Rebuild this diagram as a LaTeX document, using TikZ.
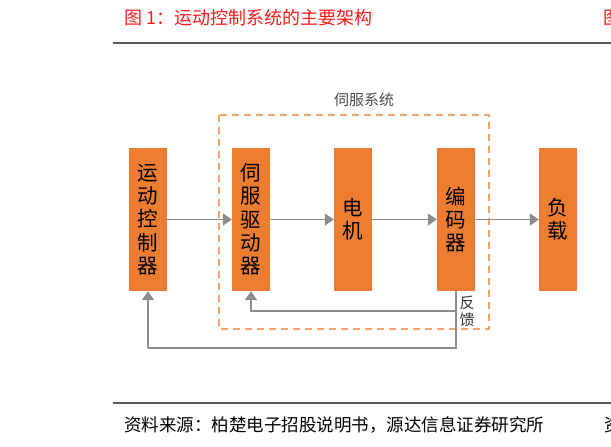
\documentclass[tikz,border=0pt]{standalone}
\usepackage{fontspec}
\usetikzlibrary{arrows.meta}
\newfontfamily\cjk{Noto Sans CJK SC}
\definecolor{boxOrange}{HTML}{ED7D31}
\definecolor{dashOrange}{HTML}{F4A46A}
\definecolor{arrowGray}{HTML}{8C8C8C}
\definecolor{ruleGray}{HTML}{5A5A5A}
\definecolor{titleRed}{HTML}{FF1A1A}

\begin{document}
\begin{tikzpicture}[x = 1pt, y = -1pt, font=\cjk]
	\tikzstyle{boxStyle} = [rectangle, fill = boxOrange, minimum width = 38pt, minimum height = 143pt, inner sep = 0pt, text width = 22pt, align = center, font = \cjk\fontsize{20.5}{23.3}\selectfont]
	\tikzstyle{arrowStyle} = [draw = arrowGray, line width = 1.8pt, -{Triangle[length = 9pt, width = 12pt]}]
	\tikzstyle{lineStyle} = [draw = arrowGray, line width = 1.8pt]
	\tikzstyle{servoStyle} = [draw = dashOrange, line width = 1.8pt, dash pattern = on 7pt off 5pt]
	\tikzstyle{ruleStyle} = [draw = ruleGray, line width = 1.2pt]
	\useasboundingbox (0,0) rectangle (611,447);
	\node[anchor = west, text = titleRed, font = \cjk\fontsize{18}{20}\selectfont, inner sep = 0pt] (title) at (124,18) {图 1：运动控制系统的主要架构};
	\node[anchor = west, text = titleRed, font = \cjk\fontsize{18}{20}\selectfont, inner sep = 0pt] (titleNext) at (603,18) {图};
	\draw[ruleStyle] (113,43) -- (611,43);
	\draw[servoStyle] (219,115) rectangle (489,329);
	\node[text = black!70, font = \cjk\fontsize{15}{17}\selectfont, inner sep = 0pt] (servo) at (364,100) {伺服系统};
	\node[boxStyle] (ctrl) at (148,219.5) {运\\动\\控\\制\\器};
	\node[boxStyle] (drive) at (251,219.5) {伺\\服\\驱\\动\\器};
	\node[boxStyle] (motor) at (353,219.5) {电\\机};
	\node[boxStyle] (enc) at (456,219.5) {编\\码\\器};
	\node[boxStyle] (load) at (558,219.5) {负\\载};
	\draw[arrowStyle] (ctrl) -- (drive);
	\draw[arrowStyle] (drive) -- (motor);
	\draw[arrowStyle] (motor) -- (enc);
	\draw[arrowStyle] (enc) -- (load);
	\coordinate (fbInner) at (251,311);
	\coordinate (fbOuter) at (148,348);
	\draw[lineStyle] (enc.south) |- (fbOuter);
	\draw[arrowStyle] (enc.south |- fbInner) -- (fbInner) -- (drive.south);
	\draw[arrowStyle] (fbOuter) -- (ctrl.south);
	\node[text = black!80, font = \cjk\fontsize{15}{17}\selectfont, text width = 16pt, align = center, inner sep = 0pt] (fbLabel) at (467,311) {反\\馈};
	\draw[ruleStyle] (113,403) -- (611,403);
	\node[anchor = west, text = black, font = \cjk\fontsize{17.5}{20}\selectfont, inner sep = 0pt] (source) at (124,425) {资料来源：柏楚电子招股说明书，源达信息证券研究所};
	\node[anchor = west, text = black, font = \cjk\fontsize{17.5}{20}\selectfont, inner sep = 0pt] (sourceNext) at (604,425) {资};
\end{tikzpicture}
\end{document}
